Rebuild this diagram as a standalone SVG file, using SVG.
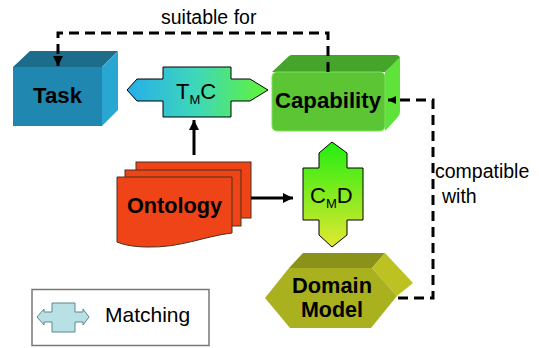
<svg xmlns="http://www.w3.org/2000/svg" width="539" height="348" viewBox="0 0 539 348">
<defs>
<style>
.lbl{font-family:"Liberation Sans",Arial,sans-serif;font-weight:bold;font-size:21.5px;fill:#000;text-anchor:middle}
.txt{font-family:"Liberation Sans",Arial,sans-serif;font-size:19.5px;fill:#000}
.dash{fill:none;stroke:#000;stroke-width:3;stroke-dasharray:10 6}
.solid{fill:none;stroke:#000;stroke-width:3}
.page{fill:#ee4418;stroke:#4a3020;stroke-width:1}
</style>
<linearGradient id="gT" x1="0" y1="0" x2="1" y2="0">
<stop offset="0" stop-color="#26aeea"/><stop offset="0.5" stop-color="#3fd8b8"/><stop offset="1" stop-color="#62f334"/>
</linearGradient>
<linearGradient id="gC" x1="0" y1="0" x2="0" y2="1">
<stop offset="0" stop-color="#22ee10"/><stop offset="1" stop-color="#e4e830"/>
</linearGradient>
<marker id="ah" viewBox="0 0 10 10" refX="10" refY="5" markerWidth="10" markerHeight="10" markerUnits="userSpaceOnUse" orient="auto">
<path d="M0,0 L10,5 L0,10 Z" fill="#000"/>
</marker>
<marker id="ahs" viewBox="0 0 10 10" refX="10" refY="5" markerWidth="8" markerHeight="8" markerUnits="userSpaceOnUse" orient="auto">
<path d="M0,0 L10,5 L0,10 Z" fill="#000"/>
</marker>
</defs>
<rect width="539" height="348" fill="#fff"/>

<g id="task">
<polygon points="13,67 30,51 118,51 102,67" fill="#1c6c8c"/>
<polygon points="102,67 118,51 118,110 102,126" fill="#2aa6d3"/>
<rect x="13" y="67" width="89" height="59" fill="#2088b0"/>
<text class="lbl" x="57.5" y="103" textLength="49" lengthAdjust="spacingAndGlyphs">Task</text>
</g>

<g id="capability">
<path d="M272,72 L289,56 Q290,55 292,55 L396,55 Q400,55 400,59 L385,72 Z" fill="#45a42a"/>
<path d="M385,72 L400,57 L400,112 Q400,115 397,118 L385,131 Z" fill="#5fe23a"/>
<rect x="272" y="72" width="113" height="59" rx="5" fill="#5cc534" stroke="#7ee05a" stroke-width="1"/>
<text class="lbl" x="328" y="108" textLength="106" lengthAdjust="spacingAndGlyphs">Capability</text>
</g>

<g id="tmc">
<polygon points="163,67 231,67 231,79 250,79 268,90 250,101 231,101 231,117 163,117 163,101 137,101 127,90 137,79 163,79" fill="url(#gT)" stroke="#000" stroke-width="1"/>
<text class="txt" x="176" y="99" style="font-size:22px">T<tspan font-size="13" dy="5">M</tspan><tspan dy="-5">C</tspan></text>
</g>

<g id="ontology">
<rect class="page" x="136" y="162" width="115" height="56"/>
<rect class="page" x="125" y="170" width="116" height="56"/>
<path class="page" d="M117,177 H232 V233 C205,236 180,248 148,247 C135,247 124,245 117,242 Z"/>
<text class="lbl" x="174.5" y="213" textLength="95" lengthAdjust="spacingAndGlyphs">Ontology</text>
</g>

<g id="cmd">
<polygon points="332,142 347,153 347,168 363,168 363,220 347,220 347,235 332,247 319,235 319,220 303,220 303,168 319,168 319,153" fill="url(#gC)" stroke="#000" stroke-width="1"/>
<text class="txt" x="310" y="203" style="font-size:22px">C<tspan font-size="13" dy="5">M</tspan><tspan dy="-5">D</tspan></text>
</g>

<g id="domain-model">
<polygon points="289,268 303,253 385,253 372,268" fill="#8b9219"/>
<polygon points="372,268 385,253 413,283 397,296" fill="#bbc222"/>
<polygon points="265,298 289,268 372,268 397,296 371,328 290,328" fill="#aab11f"/>
<text class="lbl" x="332" y="293" textLength="80" lengthAdjust="spacingAndGlyphs">Domain</text>
<text class="lbl" x="332" y="317">Model</text>
</g>

<g id="legend">
<rect x="32" y="289.5" width="177" height="56" fill="#fff" stroke="#777" stroke-width="1.5"/>
<polygon points="52,303 75,303 75,312 83,312 83,309 89,317 83,325 83,322 75,322 75,332 52,332 52,322 44,322 44,325 37,317 44,309 44,312 52,312" fill="#b9e1e5" stroke="#5a8a8c" stroke-width="1"/>
<text class="txt" x="105" y="322" style="font-size:21px">Matching</text>
</g>

<g id="connectors">
<polyline class="dash" points="328,72 328,33 58,33 58,66" marker-end="url(#ah)"/>
<polyline class="dash" points="398,298 433,298 433,100 388,100" marker-end="url(#ahs)"/>
<line class="solid" x1="194" y1="155" x2="194" y2="120" marker-end="url(#ah)"/>
<line class="solid" x1="251" y1="198" x2="293" y2="198" marker-end="url(#ah)"/>
</g>

<g id="labels">
<text class="txt" x="161" y="24">suitable for</text>
<text class="txt" x="435" y="178">compatible</text>
<text class="txt" x="442" y="203">with</text>
</g>
</svg>
